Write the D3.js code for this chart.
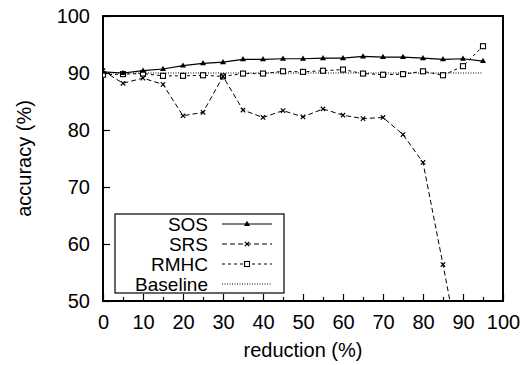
<!DOCTYPE html>
<html>
<head>
<meta charset="utf-8">
<script src="https://cdn.jsdelivr.net/npm/d3@7"></script>
<style>
  body { margin: 0; background: #fff; }
  text { font-family: "Liberation Sans", Arial, sans-serif; fill: #000; }
</style>
</head>
<body>
<script>
// data
var reduction = [0, 5, 10, 15, 20, 25, 30, 35, 40, 45, 50, 55, 60, 65, 70, 75, 80, 85, 90, 95];
var sos  = [90.2, 90.0, 90.4, 90.7, 91.3, 91.7, 91.9, 92.4, 92.4, 92.5, 92.5, 92.6, 92.6, 92.9, 92.8, 92.8, 92.6, 92.4, 92.5, 92.1];
var srsX = [0, 5, 10, 15, 20, 25, 30, 35, 40, 45, 50, 55, 60, 65, 70, 75, 80, 85, 90];
var srs  = [90.4, 88.2, 89.1, 88.0, 82.5, 83.1, 89.4, 83.5, 82.2, 83.4, 82.3, 83.7, 82.6, 82.0, 82.2, 79.2, 74.3, 56.4, 38.0];
var rmhc = [89.7, 89.8, 89.9, 89.5, 89.5, 89.6, 89.4, 89.9, 89.9, 90.3, 90.2, 90.4, 90.6, 89.9, 89.7, 89.8, 90.3, 89.6, 91.2, 94.7];
var baselineX = [0, 95];
var baseline = [90, 90];
var xTicks = [0, 10, 20, 30, 40, 50, 60, 70, 80, 90, 100];
var yTicks = [50, 60, 70, 80, 90, 100];

var svgWidth = 532, svgHeight = 365;
var chartMargin = { top: 16, right: 29, bottom: 64, left: 103 };
var chartWidth = svgWidth - chartMargin.left - chartMargin.right;
var chartHeight = svgHeight - chartMargin.top - chartMargin.bottom;

var svg = d3.select("body").append("svg")
  .attr("width", svgWidth)
  .attr("height", svgHeight);

var chartGroup = svg.append("g")
  .attr("transform", `translate(${chartMargin.left}, ${chartMargin.top})`);

var x = d3.scaleLinear().domain([0, 100]).range([0, chartWidth]);
var y = d3.scaleLinear().domain([50, 100]).range([chartHeight, 0]);

svg.append("defs").append("clipPath").attr("id", "clip")
  .append("rect").attr("width", chartWidth).attr("height", chartHeight);

// axes: ticks pointing inward, labels outside
var bottomAxis = d3.axisBottom(x).tickValues(d3.range(0, 101, 5))
  .tickSize(-6).tickPadding(14)
  .tickFormat(d => xTicks.indexOf(d) >= 0 ? d : "");
var leftAxis = d3.axisLeft(y).tickValues(yTicks).tickSize(-7).tickPadding(13);

var gx = chartGroup.append("g")
  .attr("transform", `translate(0, ${chartHeight})`)
  .call(bottomAxis);
gx.selectAll(".tick line").attr("y2", d => xTicks.indexOf(d) >= 0 ? -7 : -4);

var gy = chartGroup.append("g").call(leftAxis);

[gx, gy].forEach(function (g) {
  g.select(".domain").remove();
  g.selectAll(".tick line").attr("stroke", "#000").attr("stroke-width", 1.2);
  g.selectAll("text").style("font-size", "20px").attr("font-family", "Liberation Sans, Arial, sans-serif");
});
gx.selectAll("text").attr("dy", "0.71em");

// frame
chartGroup.append("rect")
  .attr("width", chartWidth).attr("height", chartHeight)
  .attr("fill", "none").attr("stroke", "#000").attr("stroke-width", 2);

// axis titles
svg.append("text")
  .attr("x", chartMargin.left + chartWidth / 2).attr("y", 357)
  .attr("text-anchor", "middle").style("font-size", "20px")
  .text("reduction (%)");
svg.append("text")
  .attr("transform", `translate(31, ${chartMargin.top + chartHeight / 2}) rotate(-90)`)
  .attr("text-anchor", "middle").style("font-size", "20px")
  .text("accuracy (%)");

var plot = chartGroup.append("g").attr("clip-path", "url(#clip)");

function series(xs, ys) { return xs.map((d, i) => [d, ys[i]]); }

var line = d3.line().x(d => x(d[0])).y(d => y(d[1]));

var seriesList = [
  { name: "SOS", pts: series(reduction, sos), dash: null, marker: "tri" },
  { name: "SRS", pts: series(srsX, srs), dash: "5,3", marker: "x" },
  { name: "RMHC", pts: series(reduction, rmhc), dash: "3,3", marker: "sq" },
  { name: "Baseline", pts: series(baselineX, baseline), dash: "1,1.5", marker: null }
];

function drawMarker(g, type, cx, cy) {
  if (type === "tri") {
    g.append("path")
      .attr("d", `M${cx},${cy - 3.2}L${cx + 3},${cy + 2}L${cx - 3},${cy + 2}Z`)
      .attr("fill", "#000");
  } else if (type === "x") {
    g.append("path")
      .attr("d", `M${cx - 2.2},${cy - 2.2}L${cx + 2.2},${cy + 2.2}M${cx - 2.2},${cy + 2.2}L${cx + 2.2},${cy - 2.2}`)
      .attr("stroke", "#000").attr("stroke-width", 1.2);
  } else if (type === "sq") {
    g.append("rect")
      .attr("x", cx - 2.5).attr("y", cy - 2.5).attr("width", 5).attr("height", 5)
      .attr("fill", "#fff").attr("stroke", "#000").attr("stroke-width", 1.1);
  }
}

// draw baseline first, then others on top
seriesList.slice().reverse().forEach(function (s) {
  plot.append("path")
    .datum(s.pts)
    .attr("d", line)
    .attr("fill", "none")
    .attr("stroke", "#000")
    .attr("stroke-width", s.name === "SOS" ? 1.2 : 1)
    .attr("stroke-dasharray", s.dash);
  if (s.marker) {
    s.pts.forEach(function (p) {
      if (p[1] >= 50) drawMarker(plot, s.marker, x(p[0]), y(p[1]));
    });
  }
});

// legend
var legend = svg.append("g");
legend.append("rect")
  .attr("x", 115).attr("y", 214).attr("width", 169).attr("height", 79)
  .attr("fill", "#fff").attr("stroke", "#000").attr("stroke-width", 1.2);

seriesList.forEach(function (s, i) {
  var ly = 224 + i * 20;
  legend.append("text")
    .attr("x", 208).attr("y", ly).attr("dy", "0.36em")
    .attr("text-anchor", "end").style("font-size", "19px")
    .text(s.name);
  legend.append("line")
    .attr("x1", 222).attr("x2", 272).attr("y1", ly).attr("y2", ly)
    .attr("stroke", "#000").attr("stroke-width", 1)
    .attr("stroke-dasharray", s.dash);
  if (s.marker) drawMarker(legend, s.marker, 247, ly);
});
</script>
</body>
</html>
